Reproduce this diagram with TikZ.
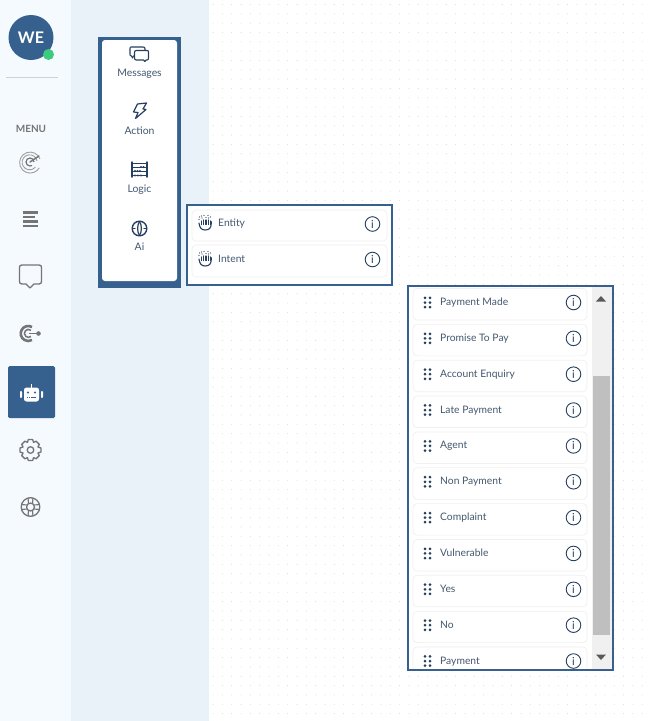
\documentclass[tikz,border=0pt]{standalone}
\usepackage{fontspec}
\setmainfont{Lato}
\definecolor{brand}{HTML}{36618E}
\definecolor{navy}{HTML}{263F60}
\definecolor{railbg}{HTML}{F5FAFF}
\definecolor{panelbg}{HTML}{E9F1F9}
\definecolor{gicon}{HTML}{757575}
\definecolor{txt}{HTML}{44586E}
\definecolor{dotc}{HTML}{DDDDDD}
\definecolor{online}{HTML}{3CCB7F}
\tikzset{
  railicon/.style={draw=gicon,line width=1.3pt,line join=round,line cap=round},
  toolicon/.style={draw=navy,line width=1.1pt,line join=round,line cap=round},
  toollabel/.style={font=\fontsize{10.4}{12}\selectfont,text=txt,inner sep=0pt,anchor=base},
  rowlabel/.style={font=\fontsize{10.3}{12}\selectfont,text=txt,inner sep=0pt,anchor=base west},
  rowcard/.style={fill=white,draw=black!6,line width=.7pt,rounded corners=4pt},
  infotext/.style={font=\fontsize{11}{11}\selectfont,text=navy,inner sep=0pt},
  infocirc/.style={draw=navy,line width=.9pt,fill=white},
  frame/.style={draw=brand,line width=2pt},
}
% info icon
\newcommand{\infoicon}[3]{\draw[infocirc] (#1,#2) circle (7.3);
  \node[infotext] (#3) at (#1,#2) {i};}
% drag handle
\newcommand{\draghandle}[2]{\foreach \dx in {-2.5,2.5} \foreach \dy in {-4.6,0,4.6}
  \fill[navy] (#1+\dx,#2+\dy) circle (1.5);}
% hand icon
\newcommand{\handicon}[2]{\begin{scope}[shift={(#1,#2)}]
  \draw[navy,line width=1.1pt,line cap=round,line join=round]
    (-6,0) .. controls (-5.5,4) and (-4,7) .. (0,7) .. controls (4,7) and (6.2,5) .. (6.2,1) -- (6.2,-1.5);
  \foreach \xx/\hh in {-3.4/-2,-1.2/-3,1/-3,3.2/-3,5.4/-2}
    \draw[navy,line width=1.1pt,line cap=round] (\xx,\hh) -- (\xx,1.5);
  \foreach \xx/\yy in {-5.5/-6,-6/-3.5,-3.5/-7,-1/-7.5,1/-5.5,3/-7.5,5.5/-6,-3/-5,3.5/-5}
    \fill[navy] (\xx,\yy) circle (.7);
\end{scope}}
\begin{document}
\begin{tikzpicture}[x=1pt,y=-1pt]
\useasboundingbox (0,0) rectangle (650,721);
\fill[white] (0,0) rectangle (650,721);
% dotted canvas
\foreach \i in {0,...,47} \foreach \j in {0,...,77}
  \fill[dotc] ({213+9.33*\i},{4.5+9.33*\j}) circle (.55);
\fill[panelbg] (71,0) rectangle (209,721);
\fill[railbg] (0,0) rectangle (71,721);
% avatar
\node[circle,fill=brand,minimum size=45pt,inner sep=0pt,text=white,font=\fontsize{16}{16}\selectfont\bfseries] (avatar) at (31,37.5) {WE};
\node[circle,fill=online,minimum size=11pt,inner sep=0pt] (status) at (48.5,54.5) {};
\draw[black!18,line width=.8pt] (6,77.5) -- (58,77.5);
\node[font=\fontsize{10}{12}\selectfont\bfseries,text=gicon,inner sep=0pt] (menu) at (31,129) {MENU};
% radar
\begin{scope}[shift={(30,162)}]
  \draw[gicon!70,line width=.9pt] (10,-3) arc (-20:-330:10.5);
  \draw[gicon!70,line width=.9pt] (7,-1) arc (-10:-320:7.5);
  \draw[gicon,line width=1.2pt] (4,0) arc (0:-300:4);
  \draw[gicon,line width=1.4pt,line cap=round] (0,0) -- (9,-6);
\end{scope}
% text lines
\foreach \yy/\xe in {212.5/38,217/35,221.5/38,226/38}
  \draw[gicon,line width=2.2pt] (22.5,\yy) -- (\xe,\yy);
% speech bubble
\draw[railicon] (22,265) -- (39,265) .. controls (41,265) and (41.5,266) .. (41.5,267.5) -- (41.5,281)
  .. controls (41.5,283) and (41,284) .. (39,284) -- (34,284) -- (30,288) -- (26,284) -- (22,284)
  .. controls (20,284) and (19.5,283) .. (19.5,281) -- (19.5,267.5) .. controls (19.5,266) and (20,265) .. (22,265) -- cycle;
% target arrow
\begin{scope}[shift={(28.5,333.5)}]
  \draw[gicon,line width=2.6pt] (3.5,-6.5) arc (-60:-300:7.5);
  \draw[gicon,line width=1.5pt] (2.5,-3.2) arc (-50:-310:4);
  \draw[gicon,line width=1.2pt] (0,0) -- (9,0);
  \fill[gicon] (10,0) circle (2.3);
\end{scope}
% active robot
\fill[brand,rounded corners=1.5pt] (8,366) rectangle (55,418) ;
\begin{scope}[shift={(31.5,394.5)}]
  \fill[white,rounded corners=2.5pt] (-7.5,-7) rectangle (7.5,7);
  \draw[white,line width=1pt] (0,-7) -- (0,-11);
  \fill[white,rounded corners=.8pt] (-11.5,-3.5) rectangle (-9.5,3.5);
  \fill[white,rounded corners=.8pt] (9.5,-3.5) rectangle (11.5,3.5);
  \fill[brand] (-3.5,-2) circle (1.2) (3.5,-2) circle (1.2);
  \draw[brand,line width=.8pt,dash pattern=on 1.3pt off .8pt] (-4.5,3) -- (4.5,3);
\end{scope}
% gear
\begin{scope}[shift={(30.5,450)}]
  \draw[railicon] (0,0) +(-2.2,-10.5) -- +(2.2,-10.5) -- +(3,-7.6) -- +(5.6,-8.8) -- +(8.8,-5.6) -- +(7.4,-3) -- +(10.5,-2) -- +(10.5,2) -- +(7.4,3) -- +(8.8,5.6) -- +(5.6,8.8) -- +(3,7.6) -- +(2.2,10.5) -- +(-2.2,10.5) -- +(-3,7.6) -- +(-5.6,8.8) -- +(-8.8,5.6) -- +(-7.4,3) -- +(-10.5,2) -- +(-10.5,-2) -- +(-7.4,-3) -- +(-8.8,-5.6) -- +(-5.6,-8.8) -- +(-3,-7.6) -- cycle;
  \draw[railicon] (0,0) circle (3.3);
\end{scope}
% lifebuoy
\begin{scope}[shift={(30.5,507)}]
  \draw[railicon] (0,0) circle (9.3);
  \draw[railicon] (0,0) circle (4);
  \foreach \a in {45,135,225,315}{
    \draw[railicon,line width=1.1pt] (\a-14:4) -- (\a-30:9.3);
    \draw[railicon,line width=1.1pt] (\a+14:4) -- (\a+30:9.3);}
\end{scope}
% toolbox
\fill[brand] (98,37) rectangle (181,288);
\fill[white,rounded corners=3pt] (102,40) rectangle (177,281);
% messages icon
\draw[toolicon,fill=white] (131,47) -- (143,47) .. controls (144.5,47) and (145,47.5) .. (145,49) -- (145,54) .. controls (145,55.5) and (144.5,56) .. (143,56) -- (133.5,56) -- (132.5,58) -- (131.5,56)
  .. controls (130,56) and (130,55) .. (130,54) -- (130,49) .. controls (130,47.5) and (130,47) .. (131,47);
\draw[toolicon,fill=white] (136.5,50.5) -- (147,50.5) .. controls (148.5,50.5) and (148.5,51) .. (148.5,52.5) -- (148.5,58) .. controls (148.5,59.5) and (148,60) .. (147,60) -- (146,60) -- (145,61.5) -- (143.5,60) -- (136.5,60) .. controls (135,60) and (134.5,59.5) .. (134.5,58) -- (134.5,52.5) .. controls (134.5,51) and (135,50.5) .. (136.5,50.5);
\node[toollabel] (tMessages) at (139.5,76) {Messages};
% action bolt
\draw[toolicon,line width=1.2pt] (137.5,104) -- (146.5,103) -- (143,109) -- (146,109.5) -- (135.5,118.5) -- (138,112.5) -- (133.5,112) -- cycle;
\node[toollabel] (tAction) at (139.5,134) {Action};
% logic abacus
\draw[toolicon,line width=1.5pt] (132,162) -- (132,177) (147,162) -- (147,177);
\draw[toolicon,line width=.8pt] (132,163) -- (147,163) (132,167) -- (147,167) (132,171) -- (147,171) (132,175.5) -- (147,175.5);
\foreach \xx/\yy in {141/167,143.5/167,135/171,137.5/171,140/171,135/175.5,138/175.5,141/175.5}
  \fill[navy] (\xx,\yy) circle (1.1);
\node[toollabel] (tLogic) at (139.5,192) {Logic};
% ai brain
\draw[toolicon,line width=1.4pt] (139.5,228.5) ellipse (7.3 and 7.3);
\draw[toolicon,line width=1.2pt] (139.5,221.5) .. controls (137,225) and (137,232) .. (139.5,235.5);
\draw[toolicon,line width=1.2pt] (139.5,221.5) .. controls (142,225) and (142,232) .. (139.5,235.5);
\draw[toolicon,line width=1.1pt] (132.5,228.5) -- (135,228.5) (144,228.5) -- (146.5,228.5);
\node[toollabel] (tAi) at (139.5,250) {Ai};
% entity panel
\fill[white] (187,205) rectangle (392,285);
\draw[frame] (187,205) rectangle (392,285);
\draw[rowcard] (192,210) rectangle (387,241);
\draw[rowcard] (192,245) rectangle (387,277);
\handicon{205}{223}
\handicon{205}{259}
\node[rowlabel] (lEntity) at (218,226) {Entity};
\node[rowlabel] (lIntent) at (218,262) {Intent};
\infoicon{372.5}{224}{iEntity}
\infoicon{372.5}{259.5}{iIntent}
% intent list panel
\fill[white] (408,286) rectangle (613,670);
\begin{scope}
  \clip (409,287) rectangle (612,669);
  \foreach \n/\lab [count=\k from 0] in {a/Payment Made,b/Promise To Pay,c/Account Enquiry,d/Late Payment,e/Agent,f/Non Payment,g/Complaint,h/Vulnerable,i/Yes,j/No,k/Payment}{
    \pgfmathsetmacro{\yc}{302.5+35.85*\k}
    \draw[rowcard] (413,\yc-14) rectangle (587,\yc+17.5);
    \draghandle{427.5}{\yc}
    \node[rowlabel] (row\n) at (440,\yc+3) {\lab};
    \infoicon{573.5}{\yc}{info\n}
  }
  \fill[black!6] (592,287) rectangle (612,669);
  \fill[black!25] (593,376) rectangle (610,635);
  \fill[black!65] (596,301.5) -- (606,301.5) -- (601,296) -- cycle;
  \fill[black!65] (596,654.5) -- (606,654.5) -- (601,660) -- cycle;
\end{scope}
\draw[frame] (408,286) rectangle (613,670);
\end{tikzpicture}
\end{document}
